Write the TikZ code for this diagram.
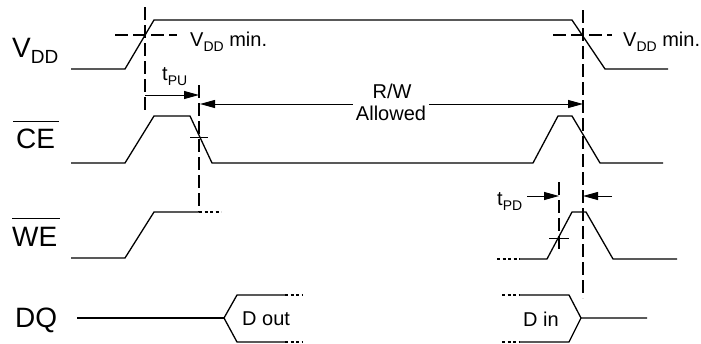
\documentclass[tikz,border=0pt]{standalone}
\usepackage{fontspec}
\setmainfont{Liberation Sans}
\usetikzlibrary{arrows.meta}
\newcommand{\bigsub}[2]{#1\raisebox{-6pt}{\fontsize{19}{21}\selectfont #2}}
\newcommand{\smallsub}[2]{#1\raisebox{-5pt}{\fontsize{14}{16}\selectfont #2}}
\begin{document}
\begin{tikzpicture}[x=1pt,y=-1pt,
  wave/.style={line width=1.3pt},
  guide/.style={line width=1.3pt, dash pattern=on 13pt off 5pt},
  dots/.style={line width=1.3pt, dash pattern=on 3pt off 2.5pt},
  dimarrow/.style={line width=1pt, -{Triangle[length=15pt,width=8pt]}},
  biglbl/.style={font=\fontsize{28}{32}\selectfont, anchor=base west, inner sep=0pt},
  smalllbl/.style={font=\fontsize{20}{24}\selectfont, anchor=base west, inner sep=0pt},
  tickmark/.style={line width=1pt}]
\useasboundingbox (0,0) rectangle (701,343);

% signal labels
\node[biglbl] (lvdd) at (12,57) {\bigsub{V}{DD}};
\node[biglbl] (lce) at (16,148) {CE};
\draw[line width=1.2pt] ([yshift=7pt,xshift=-3pt]lce.north west) -- ([yshift=7pt,xshift=4pt]lce.north east);
\node[biglbl] (lwe) at (12,246) {WE};
\draw[line width=1.2pt] ([yshift=8pt,xshift=0pt]lwe.north west) -- ([yshift=8pt,xshift=2pt]lwe.north east);
\node[biglbl] (ldq) at (15,327) {DQ};

% VDD waveform
\draw[wave] (71,69) -- (125,69) -- (154,20) -- (572,20) -- (605,69) -- (668,69);
\draw[guide] (115,35) -- (177,35);
\draw[guide] (553,35) -- (612,35);
\node[smalllbl] (vmin1) at (190,46) {\smallsub{V}{DD}~min.};
\node[smalllbl] (vmin2) at (623,46) {\smallsub{V}{DD}~min.};

% CE waveform
\draw[wave] (71,163) -- (125,163) -- (154,116) -- (190,116) -- (212,163) -- (533,163) -- (558,116) -- (572,116) -- (600,163) -- (663,163);
\draw[tickmark] (190,137) -- (208,137);

% WE waveform
\draw[wave] (71,258) -- (125,258) -- (154,212) -- (199,212);
\draw[dots] (199,212) -- (221,212);
\draw[dots] (497,259) -- (520,259);
\draw[wave] (520,259) -- (547,259) -- (572,212) -- (586,212) -- (613,259) -- (677,259);
\draw[tickmark] (549,238) -- (569,238);

% DQ waveform
\draw[wave] (77,318) -- (224,318);
\draw[wave] (285,295) -- (237,295) -- (224,318) -- (237,342) -- (285,342);
\draw[dots] (285,295) -- (303,295);
\draw[dots] (285,342) -- (303,342);
\node[smalllbl] (dout) at (242,325) {D out};
\draw[dots] (502,295) -- (520,295);
\draw[dots] (502,342) -- (520,342);
\draw[wave] (520,295) -- (569,295) -- (581,318) -- (647,318);
\draw[wave] (520,342) -- (569,342) -- (581,318);
\node[smalllbl] (din) at (523,326) {D in};

% vertical guide lines
\draw[guide] (145,7) -- (145,110);
\draw[guide] (199,85) -- (199,212);
\draw[guide] (583,10) -- (583,298);
\draw[guide] (559,182) -- (559,250);

% tPU
\node[smalllbl] (tpu) at (162,80) {\smallsub{t}{PU}};
\coordinate (pu1) at (145,95);
\coordinate (pu2) at (199,95);
\draw[dimarrow] (pu1) -- (pu2);

% R/W allowed
\node[smalllbl, anchor=base] (rw1) at (392,98) {R/W};
\node[smalllbl, anchor=base, inner xsep=3pt] (rw2) at (391,120) {Allowed};
\coordinate (rwL) at (200,104);
\coordinate (rwR) at (583,104);
\draw[dimarrow] (rwL -| rw2.west) -- (rwL);
\draw[dimarrow] (rwR -| rw2.east) -- (rwR);

% tPD
\node[smalllbl] (tpd) at (497,205) {\smallsub{t}{PD}};
\coordinate (pd1) at (527,196);
\coordinate (pd2) at (559,196);
\coordinate (pd3) at (612,196);
\coordinate (pd4) at (583,196);
\draw[dimarrow] (pd1) -- (pd2);
\draw[dimarrow] (pd3) -- (pd4);
\end{tikzpicture}
\end{document}
